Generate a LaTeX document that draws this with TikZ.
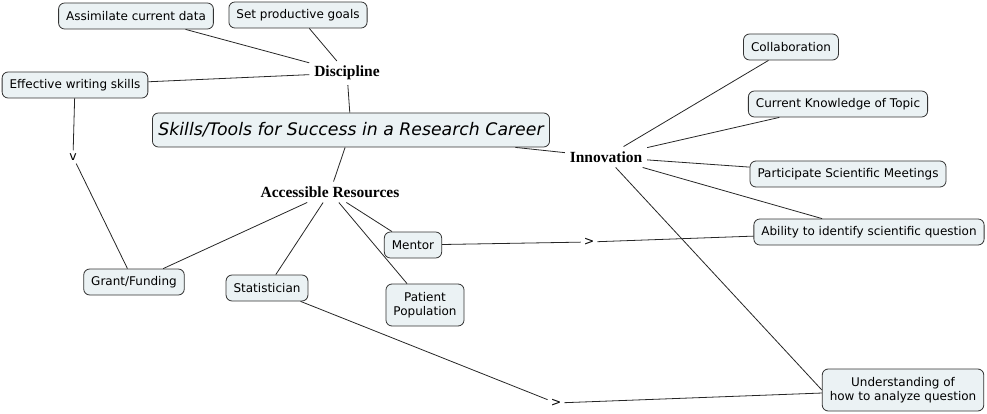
\documentclass[tikz,border=0pt]{standalone}
\usepackage{fontspec}
\setmainfont{Liberation Serif}
\newfontfamily\boxfont{DejaVu Sans}
\begin{document}
\begin{tikzpicture}[x=1pt,y=-1pt,
  concept/.style={draw=black!80, fill=cmfill, rounded corners=6pt, line width=0.8pt,
    font=\boxfont\fontsize{12}{14.5}\selectfont, inner xsep=7.5pt, inner ysep=3pt,
    minimum height=26pt, align=center},
  phrase/.style={font=\bfseries\fontsize{15.5}{17}\selectfont, inner sep=3pt, outer sep=2pt},
  arrowtxt/.style={font=\boxfont\fontsize{12.5}{14}\selectfont, inner sep=3pt},
  conn/.style={draw=black!85, line width=0.8pt}]
\definecolor{cmfill}{HTML}{EBF2F4}
\useasboundingbox (0,0) rectangle (987,414);
% concepts
\node[concept] (assim) at (136,16) {Assimilate current data};
\node[concept] (goals) at (298,15) {Set productive goals};
\node[concept] (writing) at (75,85) {Effective writing skills};
\node[concept, font=\boxfont\itshape\fontsize{17.3}{20}\selectfont, inner xsep=6pt, minimum height=34pt] (title) at (351,130) {Skills/Tools for Success in a Research Career};
\node[concept] (collab) at (791,47) {Collaboration};
\node[concept] (know) at (838,104) {Current Knowledge of Topic};
\node[concept] (meet) at (848,174) {Participate Scientific Meetings};
\node[concept] (ability) at (869,232) {Ability to identify scientific question};
\node[concept] (mentor) at (413,245) {Mentor};
\node[concept] (grant) at (134,282) {Grant/Funding};
\node[concept] (stat) at (267,288) {Statistician};
\node[concept, minimum height=42pt] (patient) at (425,305) {Patient\\Population};
\node[concept, minimum height=42pt] (under) at (903,390) {Understanding of\\how to analyze question};
% linking phrases
\node[phrase] (disc) at (347,73) {Discipline};
\node[phrase] (access) at (330,192) {Accessible Resources};
\node[phrase] (innov) at (606,157) {Innovation};
\node[arrowtxt] (v1) at (73,157) {v};
\node[arrowtxt] (g1) at (589,242) {>};
\node[arrowtxt] (g2) at (556,403) {>};
% connectors
\draw[conn] (assim) -- (disc);
\draw[conn] (goals) -- (disc);
\draw[conn] (writing) -- (disc);
\draw[conn] (disc) -- (title);
\draw[conn] (writing) -- (v1);
\draw[conn] (v1) -- (grant);
\draw[conn] (title) -- (access);
\draw[conn] (access) -- (grant);
\draw[conn] (access) -- (stat);
\draw[conn] (access) -- (patient);
\draw[conn] (access) -- (mentor);
\draw[conn] (mentor) -- (g1);
\draw[conn] (g1) -- (ability);
\draw[conn] (title) -- (innov);
\draw[conn] (innov) -- (collab);
\draw[conn] (innov) -- (know);
\draw[conn] (innov) -- (meet);
\draw[conn] (innov) -- (ability);
\draw[conn] (innov) -- (under.west);
\draw[conn] (stat) -- (g2);
\draw[conn] (g2) -- (under);
\end{tikzpicture}
\end{document}
